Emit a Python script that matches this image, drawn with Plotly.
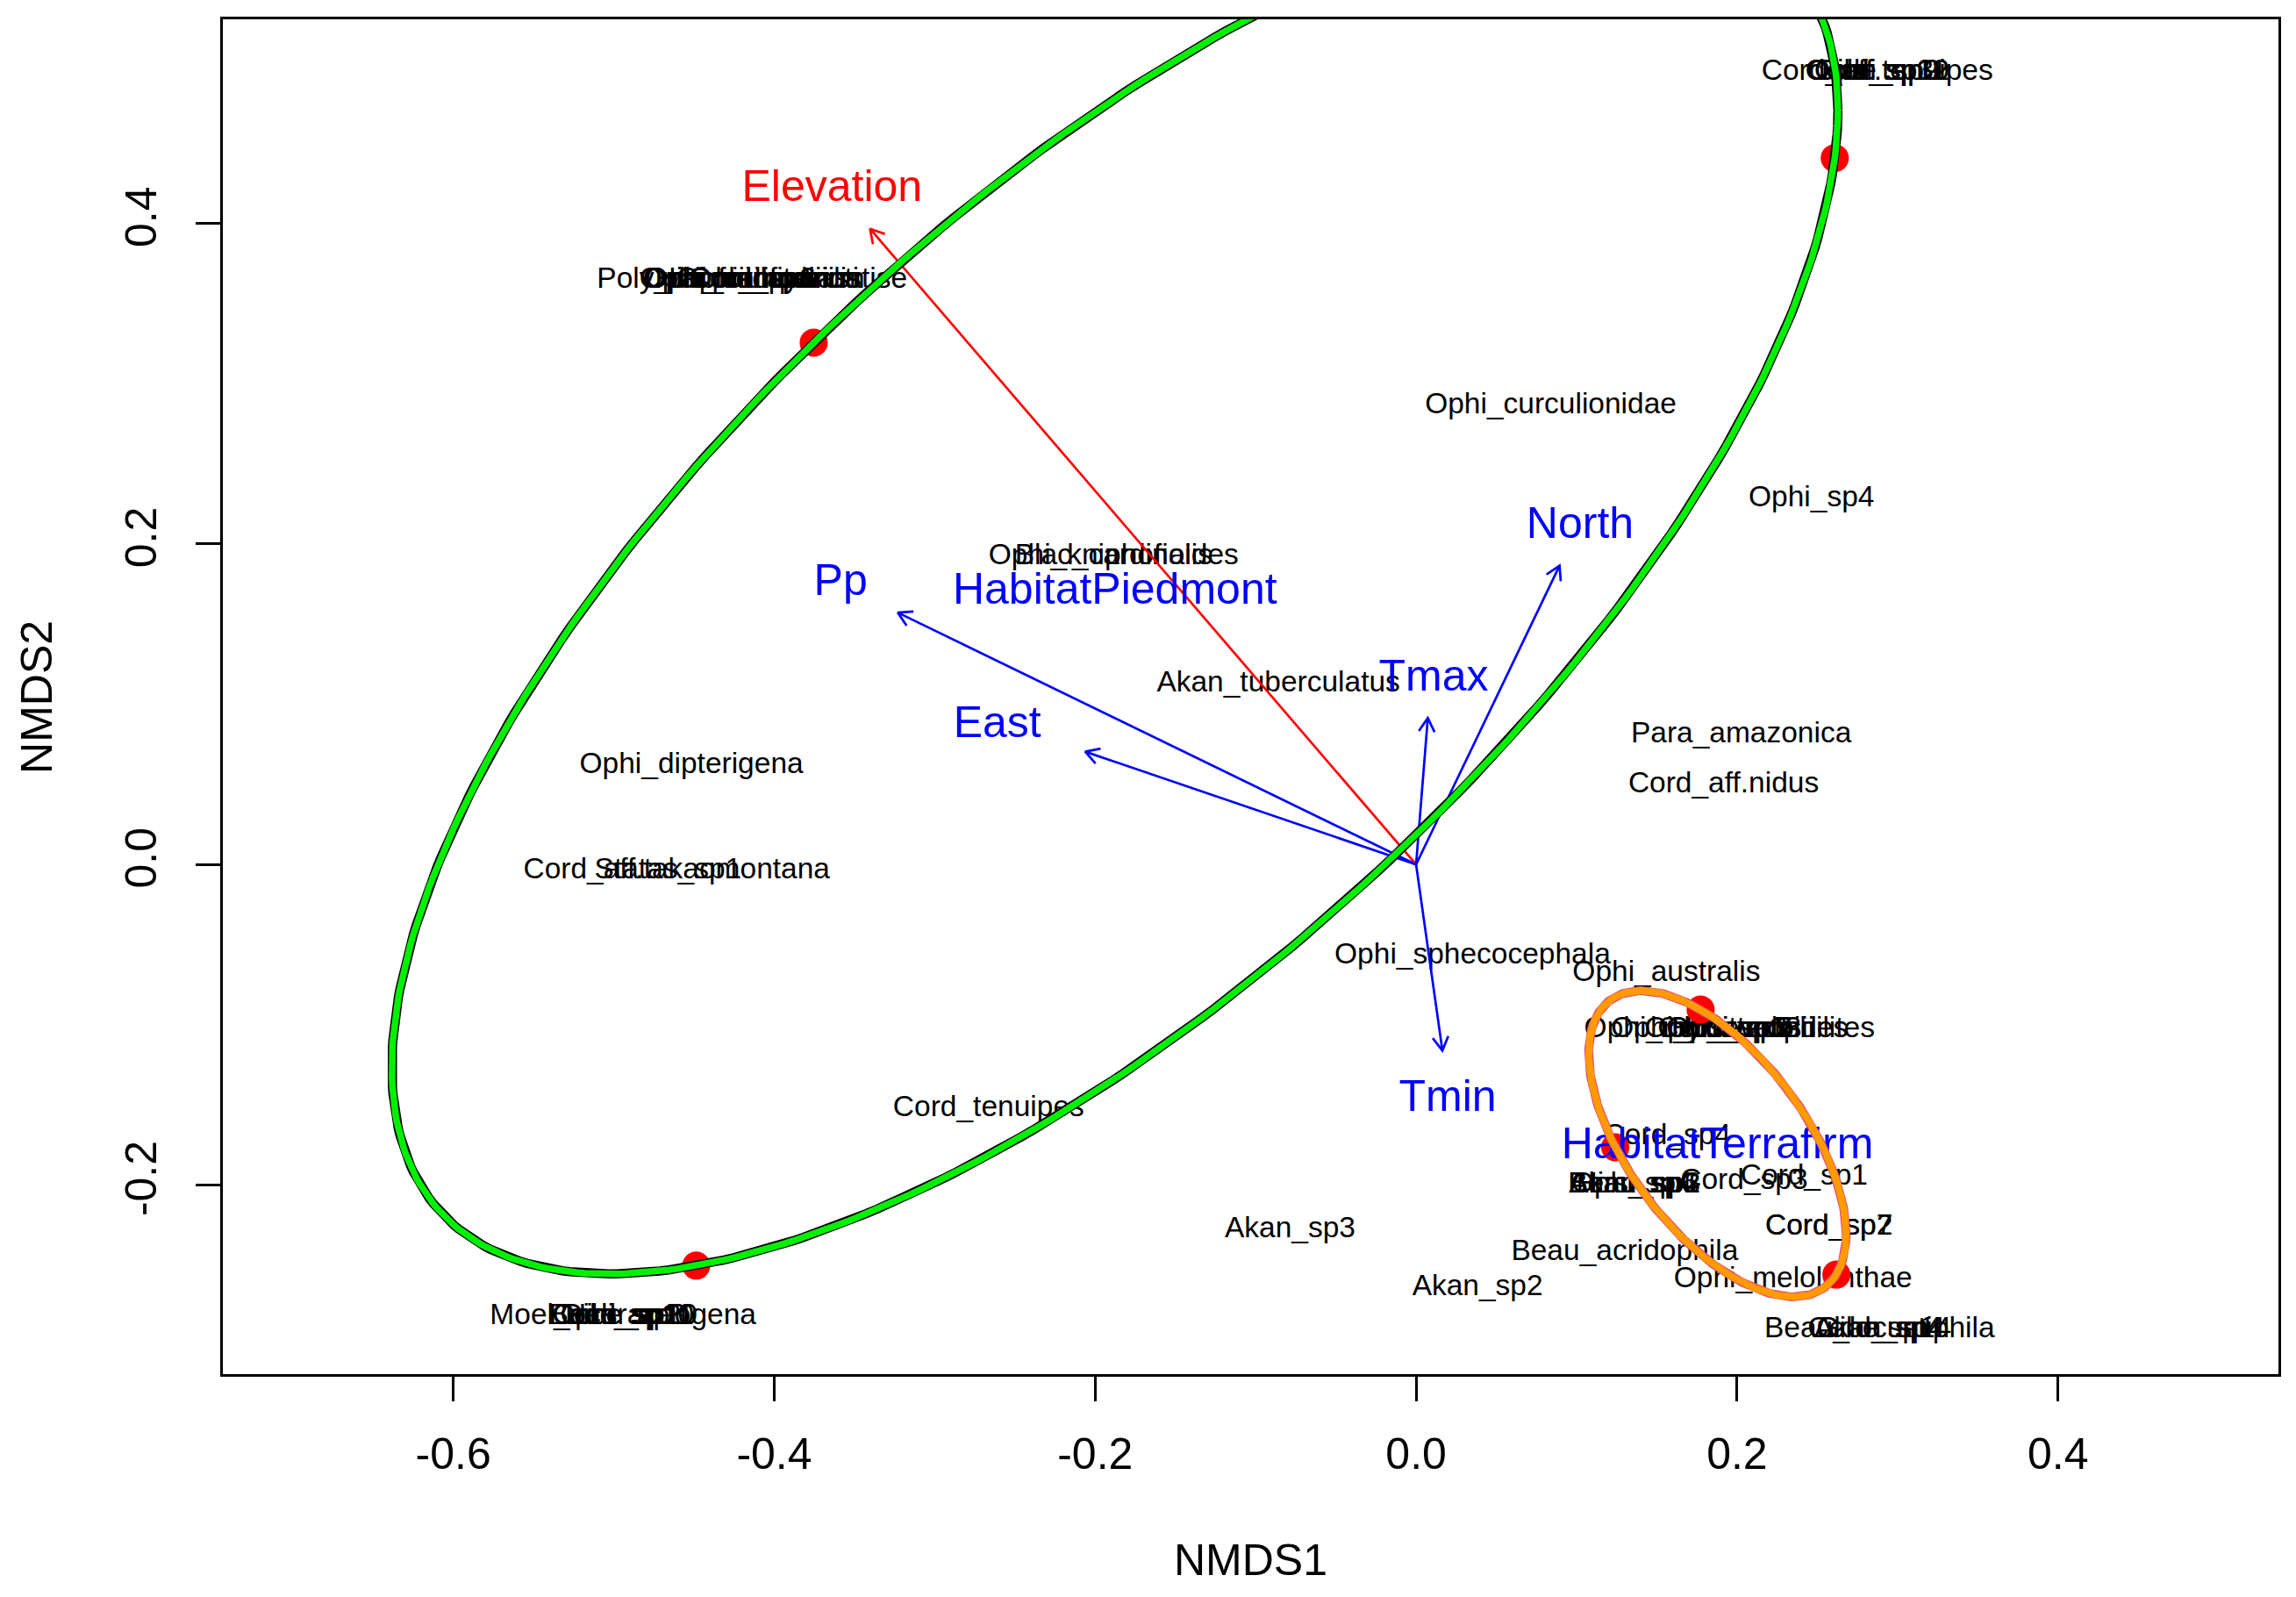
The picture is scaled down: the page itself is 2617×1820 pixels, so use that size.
import numpy as np
import plotly.graph_objects as go

# ---------------- data ----------------
# site scores (red points) and their habitat group
site_x = [-0.3754, 0.2609, -0.4486, 0.1773, 0.1241, 0.2619]
site_y = [0.3257, 0.4408, -0.2503, -0.0905, -0.1764, -0.2559]
site_habitat = ["Piedmont", "Piedmont", "Piedmont", "Terrafirm", "Terrafirm", "Terrafirm"]

# envfit vectors (arrow tips) and label positions
vec_names = ["Elevation", "Pp", "East", "Tmax", "North", "Tmin"]
vec_x = [-0.3403, -0.3230, -0.2062, 0.0073, 0.0894, 0.0164]
vec_y = [0.3967, 0.1572, 0.0704, 0.0914, 0.1865, -0.1161]
vec_label_x = [-0.3640, -0.3586, -0.2610, 0.0109, 0.1022, 0.0197]
vec_label_y = [0.4232, 0.1773, 0.0887, 0.1179, 0.2130, -0.1444]

# species scores (labels); several species share the same coordinates
species_names = [
    "Cord_aff.tenuipes", "Cord_sp10", "Ophi_sp11", "Gibe_sp2", "Isar_sp3", "Cord_sp12", "Ophi_sp9",
    "Poly_ramosopulvinatise", "Ophi_unilateralis", "Hirs_citriformis", "Ophi_camponoti",
    "Ophi_lloydii", "Cord_sp6", "Ophi_sp1", "Ophi_formicarum",
    "Ophi_kniphofioides", "Blac_cardinalis",
    "Cord_aff.takaomontana", "Statas_sp1",
    "Ophi_myrmecophilites", "Ophi_blattarioides", "Ophi_sp2", "Hirs_sp3", "Cord_sp13", "Ophi_evansii", "Ophi_sp5",
    "Cord_sp4",
    "Beau_sp3", "Akan_sp1", "Hirs_sp4", "Beau_sp2", "Ophi_sp6",
    "Cord_sp3", "Cord_sp1", "Cord_sp2", "Cord_sp7",
    "Beau_acridophila", "Ophi_melolonthae",
    "Beau_locustiphila", "Gibe_sp4", "Akan_sp4", "Cord_sp14",
    "Akan_sp3", "Akan_sp2", "Cord_tenuipes",
    "Moel_ochraceogena", "Cord_sp11", "Gibe_sp3", "Beau_sp10", "Hirs_sp2", "Ophi_sp10",
    "Ophi_dipterigena", "Ophi_curculionidae", "Ophi_sp4", "Akan_tuberculatus",
    "Para_amazonica", "Cord_aff.nidus", "Ophi_sphecocephala", "Ophi_australis",
]
species_x = [
    0.2874, 0.2874, 0.2874, 0.2874, 0.2874, 0.2874, 0.2874,
    -0.4138, -0.4138, -0.4138, -0.4138,
    -0.4138, -0.4138, -0.4138, -0.4138,
    -0.1885, -0.1885,
    -0.4608, -0.4662,
    0.1953, 0.1953, 0.1953, 0.1953, 0.1953, 0.1953, 0.1953,
    0.1565,
    0.1359, 0.1359, 0.1359, 0.1359, 0.1359,
    0.2044, 0.2418, 0.2573, 0.2573,
    0.1300, 0.2349,
    0.2888, 0.2888, 0.2888, 0.2888,
    -0.0785, 0.0383, -0.2664,
    -0.4942, -0.4942, -0.4942, -0.4942, -0.4942, -0.4942,
    -0.4516, 0.0839, 0.2464, -0.0858,
    0.2026, 0.1916, 0.0352, 0.1560,
]
species_y = [
    0.4964, 0.4964, 0.4964, 0.4964, 0.4964, 0.4964, 0.4964,
    0.3670, 0.3670, 0.3670, 0.3670,
    0.3670, 0.3670, 0.3670, 0.3670,
    0.1942, 0.1942,
    -0.0018, -0.0018,
    -0.1005, -0.1005, -0.1005, -0.1005, -0.1005, -0.1005, -0.1005,
    -0.1673,
    -0.1974, -0.1974, -0.1974, -0.1974, -0.1974,
    -0.1956, -0.1929, -0.2239, -0.2239,
    -0.2395, -0.2569,
    -0.2879, -0.2879, -0.2879, -0.2879,
    -0.2258, -0.2614, -0.1499,
    -0.2797, -0.2797, -0.2797, -0.2797, -0.2797, -0.2797,
    0.0640, 0.2888, 0.2303, 0.1152,
    0.0832, 0.0521, -0.0548, -0.0658,
]

x_ticks = [-0.6, -0.4, -0.2, 0.0, 0.2, 0.4]
x_tick_labels = ["-0.6", "-0.4", "-0.2", "0.0", "0.2", "0.4"]
y_ticks = [-0.2, 0.0, 0.2, 0.4]
y_tick_labels = ["-0.2", "0.0", "0.2", "0.4"]

# ---------------- figure ----------------
FONT = "Liberation Sans, Arial, Helvetica, sans-serif"
# Plotly centres text a little higher than R does; nudge labels down (~4.5 px in data units)
TEXT_NUDGE = 4.5 / 1826.0
fig = go.Figure()

# species labels
fig.add_trace(go.Scatter(
    x=species_x, y=[v - TEXT_NUDGE for v in species_y], mode="text", text=species_names,
    textposition="middle center",
    textfont=dict(family=FONT, size=33.5, color="black"),
    hoverinfo="skip", cliponaxis=False,
))

# site points
fig.add_trace(go.Scatter(
    x=site_x, y=site_y, mode="markers",
    marker=dict(color="#FF0000", size=32, line=dict(width=0)),
    hoverinfo="skip",
))

# envfit arrows with open "V" heads
head_len = 0.0098
head_ang = np.deg2rad(30)
for name, vx, vy in zip(vec_names, vec_x, vec_y):
    col = "#FF0000" if name == "Elevation" else "#0000FF"
    th = np.arctan2(vy, vx)
    hx1 = vx - head_len * np.cos(th - head_ang)
    hy1 = vy - head_len * np.sin(th - head_ang)
    hx2 = vx - head_len * np.cos(th + head_ang)
    hy2 = vy - head_len * np.sin(th + head_ang)
    fig.add_trace(go.Scatter(
        x=[0, vx, None, hx1, vx, hx2], y=[0, vy, None, hy1, vy, hy2],
        mode="lines", line=dict(color=col, width=2.7), hoverinfo="skip",
    ))

# vector labels
fig.add_trace(go.Scatter(
    x=vec_label_x, y=[v - TEXT_NUDGE for v in vec_label_y], mode="text", text=vec_names,
    textposition="middle center",
    textfont=dict(family=FONT, size=50,
                  color=["#FF0000" if n == "Elevation" else "#0000FF" for n in vec_names]),
    hoverinfo="skip", cliponaxis=False,
))

# factor centroids (habitat)
groups = ["Piedmont", "Terrafirm"]
cx, cy = [], []
for g in groups:
    gx = [x for x, h in zip(site_x, site_habitat) if h == g]
    gy = [y for y, h in zip(site_y, site_habitat) if h == g]
    cx.append(float(np.mean(gx)))
    cy.append(float(np.mean(gy)))
fig.add_trace(go.Scatter(
    x=cx, y=[v - TEXT_NUDGE for v in cy], mode="text", text=["Habitat" + g for g in groups],
    textposition="middle center",
    textfont=dict(family=FONT, size=50, color="#0000FF"),
    hoverinfo="skip", cliponaxis=False,
))


# group ellipses (through the group's sites, centred on the centroid)
def group_ellipse(g, n=400):
    P = np.array([[x, y] for x, y, h in zip(site_x, site_y, site_habitat) if h == g])
    c = P.mean(axis=0)
    S = np.cov(P.T, bias=True)
    L = np.linalg.cholesky(S)
    t = np.linspace(0, 2 * np.pi, n)
    circ = np.vstack([np.cos(t), np.sin(t)]) * np.sqrt(2.0)
    pts = c[:, None] + L @ circ
    return pts[0], pts[1]


ex, ey = group_ellipse("Piedmont")
fig.add_trace(go.Scatter(x=ex, y=ey, mode="lines", line=dict(color="black", width=10.5), hoverinfo="skip"))
fig.add_trace(go.Scatter(x=ex, y=ey, mode="lines", line=dict(color="#00F000", width=7.5), hoverinfo="skip"))
ex, ey = group_ellipse("Terrafirm")
fig.add_trace(go.Scatter(x=ex, y=ey, mode="lines", line=dict(color="#E0507A", width=10), hoverinfo="skip"))
fig.add_trace(go.Scatter(x=ex, y=ey, mode="lines", line=dict(color="#FF9A00", width=8), hoverinfo="skip"))

axis_common = dict(
    ticks="outside", ticklen=28, tickwidth=3, tickcolor="black",
    showline=True, linewidth=3, linecolor="black", mirror=True,
    showgrid=False, zeroline=False,
    tickfont=dict(family=FONT, size=50, color="black"),
)
fig.update_xaxes(range=[-0.7436, 0.5374], tickmode="array", tickvals=x_ticks, ticktext=x_tick_labels,
                 ticklabelstandoff=17, **axis_common)
fig.update_yaxes(range=[-0.3180, 0.5274], tickmode="array", tickvals=y_ticks, ticktext=y_tick_labels,
                 tickangle=-90, ticklabelstandoff=25, **axis_common)

# the page body adds an 8 px margin, so the figure is drawn 8 px smaller
fig.update_layout(
    width=2609, height=1812,
    margin=dict(l=246, r=20, t=14, b=254),
    plot_bgcolor="white", paper_bgcolor="white",
    showlegend=False,
    font=dict(family=FONT, color="black"),
    annotations=[
        dict(text="NMDS1", xref="paper", yref="paper", x=0.5, y=-0.1373,
             xanchor="center", yanchor="middle", showarrow=False,
             font=dict(family=FONT, size=50, color="black")),
        dict(text="NMDS2", xref="paper", yref="paper", x=-0.0905, y=0.5,
             xanchor="center", yanchor="middle", showarrow=False, textangle=-90,
             font=dict(family=FONT, size=50, color="black")),
    ],
)

fig.write_html("out.html")
